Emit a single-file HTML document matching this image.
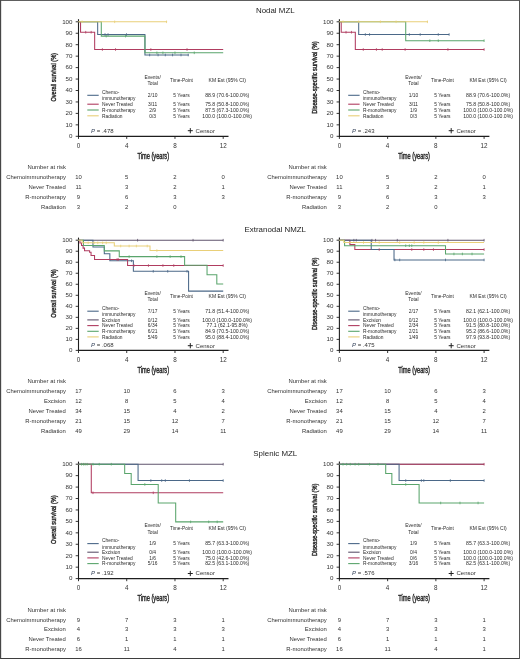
<!DOCTYPE html>
<html><head><meta charset="utf-8"><style>
html,body{margin:0;padding:0;background:#fff;}
body{width:520px;height:659px;overflow:hidden;}
svg{display:block;will-change:transform;}
text{font-family:"Liberation Sans", sans-serif;}
</style></head><body>
<svg width="520" height="659" viewBox="0 0 520 659">
<rect x="0" y="0" width="520" height="659" fill="#fff"/>
<text x="275.30" y="13.26" font-size="7.9" text-anchor="middle" fill="#222">Nodal MZL</text>
<line x1="78.50" y1="19.20" x2="78.50" y2="136.90" stroke="#1e1e1e" stroke-width="1.1"/>
<line x1="78.00" y1="136.30" x2="228.50" y2="136.30" stroke="#1e1e1e" stroke-width="1.2"/>
<line x1="75.70" y1="136.30" x2="78.50" y2="136.30" stroke="#1e1e1e" stroke-width="0.9"/>
<text x="72.50" y="138.12" font-size="6.2" text-anchor="end" fill="#333">0</text>
<line x1="75.70" y1="124.85" x2="78.50" y2="124.85" stroke="#1e1e1e" stroke-width="0.9"/>
<text x="72.50" y="126.67" font-size="6.2" text-anchor="end" fill="#333">10</text>
<line x1="75.70" y1="113.40" x2="78.50" y2="113.40" stroke="#1e1e1e" stroke-width="0.9"/>
<text x="72.50" y="115.22" font-size="6.2" text-anchor="end" fill="#333">20</text>
<line x1="75.70" y1="101.95" x2="78.50" y2="101.95" stroke="#1e1e1e" stroke-width="0.9"/>
<text x="72.50" y="103.77" font-size="6.2" text-anchor="end" fill="#333">30</text>
<line x1="75.70" y1="90.50" x2="78.50" y2="90.50" stroke="#1e1e1e" stroke-width="0.9"/>
<text x="72.50" y="92.32" font-size="6.2" text-anchor="end" fill="#333">40</text>
<line x1="75.70" y1="79.05" x2="78.50" y2="79.05" stroke="#1e1e1e" stroke-width="0.9"/>
<text x="72.50" y="80.87" font-size="6.2" text-anchor="end" fill="#333">50</text>
<line x1="75.70" y1="67.60" x2="78.50" y2="67.60" stroke="#1e1e1e" stroke-width="0.9"/>
<text x="72.50" y="69.42" font-size="6.2" text-anchor="end" fill="#333">60</text>
<line x1="75.70" y1="56.15" x2="78.50" y2="56.15" stroke="#1e1e1e" stroke-width="0.9"/>
<text x="72.50" y="57.97" font-size="6.2" text-anchor="end" fill="#333">70</text>
<line x1="75.70" y1="44.70" x2="78.50" y2="44.70" stroke="#1e1e1e" stroke-width="0.9"/>
<text x="72.50" y="46.52" font-size="6.2" text-anchor="end" fill="#333">80</text>
<line x1="75.70" y1="33.25" x2="78.50" y2="33.25" stroke="#1e1e1e" stroke-width="0.9"/>
<text x="72.50" y="35.07" font-size="6.2" text-anchor="end" fill="#333">90</text>
<line x1="75.70" y1="21.80" x2="78.50" y2="21.80" stroke="#1e1e1e" stroke-width="0.9"/>
<text x="72.50" y="23.62" font-size="6.2" text-anchor="end" fill="#333">100</text>
<line x1="78.50" y1="136.30" x2="78.50" y2="138.90" stroke="#1e1e1e" stroke-width="0.9"/>
<text x="78.50" y="147.76" font-size="6.3" text-anchor="middle" fill="#333">0</text>
<line x1="126.73" y1="136.30" x2="126.73" y2="138.90" stroke="#1e1e1e" stroke-width="0.9"/>
<text x="126.73" y="147.76" font-size="6.3" text-anchor="middle" fill="#333">4</text>
<line x1="174.97" y1="136.30" x2="174.97" y2="138.90" stroke="#1e1e1e" stroke-width="0.9"/>
<text x="174.97" y="147.76" font-size="6.3" text-anchor="middle" fill="#333">8</text>
<line x1="223.20" y1="136.30" x2="223.20" y2="138.90" stroke="#1e1e1e" stroke-width="0.9"/>
<text x="223.20" y="147.76" font-size="6.3" text-anchor="middle" fill="#333">12</text>
<text x="153.25" y="158.80" font-size="8.5" text-anchor="middle" fill="#2a2a2a" stroke="#2a2a2a" stroke-width="0.42" textLength="31.7" lengthAdjust="spacingAndGlyphs">Time (years)</text>
<text transform="translate(56.40,77.30) rotate(-90)" x="0" y="0" font-size="8.1" text-anchor="middle" fill="#2a2a2a" stroke="#2a2a2a" stroke-width="0.42" textLength="48.6" lengthAdjust="spacingAndGlyphs">Overall survival (%)</text>
<path d="M78.50,21.80 L97.67,21.80 L97.67,34.51 L144.94,34.51 L144.94,55.00 L188.71,55.00" fill="none" stroke="#4b6888" stroke-width="1.05" stroke-linejoin="miter"/>
<path d="M78.50,21.80 L80.55,21.80 L80.55,32.22 L94.66,32.22 L94.66,49.51 L223.20,49.51" fill="none" stroke="#b03c60" stroke-width="1.05" stroke-linejoin="miter"/>
<path d="M78.50,21.80 L101.29,21.80 L101.29,36.11 L144.94,36.11 L144.94,52.83 L223.20,52.83" fill="none" stroke="#5aa56c" stroke-width="1.05" stroke-linejoin="miter"/>
<path d="M78.50,21.80 L167.13,21.80" fill="none" stroke="#e9cf78" stroke-width="1.05" stroke-linejoin="miter"/>
<line x1="105.03" y1="33.21" x2="105.03" y2="35.81" stroke="#4b6888" stroke-width="0.8"/>
<line x1="108.04" y1="33.21" x2="108.04" y2="35.81" stroke="#4b6888" stroke-width="0.8"/>
<line x1="126.49" y1="33.21" x2="126.49" y2="35.81" stroke="#4b6888" stroke-width="0.8"/>
<line x1="149.64" y1="53.70" x2="149.64" y2="56.30" stroke="#4b6888" stroke-width="0.8"/>
<line x1="158.08" y1="53.70" x2="158.08" y2="56.30" stroke="#4b6888" stroke-width="0.8"/>
<line x1="165.32" y1="53.70" x2="165.32" y2="56.30" stroke="#4b6888" stroke-width="0.8"/>
<line x1="172.56" y1="53.70" x2="172.56" y2="56.30" stroke="#4b6888" stroke-width="0.8"/>
<line x1="181.00" y1="53.70" x2="181.00" y2="56.30" stroke="#4b6888" stroke-width="0.8"/>
<line x1="188.23" y1="53.70" x2="188.23" y2="56.30" stroke="#4b6888" stroke-width="0.8"/>
<line x1="85.73" y1="30.92" x2="85.73" y2="33.52" stroke="#b03c60" stroke-width="0.8"/>
<line x1="91.16" y1="30.92" x2="91.16" y2="33.52" stroke="#b03c60" stroke-width="0.8"/>
<line x1="102.38" y1="48.21" x2="102.38" y2="50.81" stroke="#b03c60" stroke-width="0.8"/>
<line x1="115.52" y1="48.21" x2="115.52" y2="50.81" stroke="#b03c60" stroke-width="0.8"/>
<line x1="150.85" y1="48.21" x2="150.85" y2="50.81" stroke="#b03c60" stroke-width="0.8"/>
<line x1="187.02" y1="48.21" x2="187.02" y2="50.81" stroke="#b03c60" stroke-width="0.8"/>
<line x1="106.23" y1="34.81" x2="106.23" y2="37.41" stroke="#5aa56c" stroke-width="0.8"/>
<line x1="125.53" y1="34.81" x2="125.53" y2="37.41" stroke="#5aa56c" stroke-width="0.8"/>
<line x1="156.88" y1="51.53" x2="156.88" y2="54.13" stroke="#5aa56c" stroke-width="0.8"/>
<line x1="162.91" y1="51.53" x2="162.91" y2="54.13" stroke="#5aa56c" stroke-width="0.8"/>
<line x1="174.97" y1="51.53" x2="174.97" y2="54.13" stroke="#5aa56c" stroke-width="0.8"/>
<line x1="194.26" y1="51.53" x2="194.26" y2="54.13" stroke="#5aa56c" stroke-width="0.8"/>
<line x1="82.12" y1="20.50" x2="82.12" y2="23.10" stroke="#e9cf78" stroke-width="0.8"/>
<line x1="114.67" y1="20.50" x2="114.67" y2="23.10" stroke="#e9cf78" stroke-width="0.8"/>
<line x1="166.53" y1="20.50" x2="166.53" y2="23.10" stroke="#e9cf78" stroke-width="0.8"/>
<text x="152.60" y="79.15" font-size="4.9" text-anchor="middle" fill="#2b2b2b">Events/</text>
<text x="152.60" y="84.85" font-size="4.9" text-anchor="middle" fill="#2b2b2b">Total</text>
<text x="181.50" y="81.90" font-size="4.75" text-anchor="middle" fill="#2b2b2b">Time-Point</text>
<text x="227.20" y="81.99" font-size="5.0" text-anchor="middle" fill="#2b2b2b">KM Est (95% CI)</text>
<line x1="87.30" y1="95.30" x2="98.70" y2="95.30" stroke="#4b6888" stroke-width="1.1"/>
<text x="102.10" y="93.74" font-size="4.85" fill="#2b2b2b">Chemo-</text>
<text x="102.10" y="100.24" font-size="4.85" fill="#2b2b2b">immunotherapy</text>
<text x="152.60" y="97.05" font-size="4.9" text-anchor="middle" fill="#2b2b2b">2/10</text>
<text x="181.50" y="97.05" font-size="4.9" text-anchor="middle" fill="#2b2b2b">5 Years</text>
<text x="227.20" y="97.14" font-size="5.15" text-anchor="middle" fill="#2b2b2b">88.9 (70.6-100.0%)</text>
<line x1="87.30" y1="104.20" x2="98.70" y2="104.20" stroke="#b03c60" stroke-width="1.1"/>
<text x="102.10" y="105.94" font-size="4.85" fill="#2b2b2b">Never Treated</text>
<text x="152.60" y="105.95" font-size="4.9" text-anchor="middle" fill="#2b2b2b">3/11</text>
<text x="181.50" y="105.95" font-size="4.9" text-anchor="middle" fill="#2b2b2b">5 Years</text>
<text x="227.20" y="106.04" font-size="5.15" text-anchor="middle" fill="#2b2b2b">75.8 (50.8-100.0%)</text>
<line x1="87.30" y1="110.00" x2="98.70" y2="110.00" stroke="#5aa56c" stroke-width="1.1"/>
<text x="102.10" y="111.74" font-size="4.85" fill="#2b2b2b">R-monotherapy</text>
<text x="152.60" y="111.75" font-size="4.9" text-anchor="middle" fill="#2b2b2b">2/9</text>
<text x="181.50" y="111.75" font-size="4.9" text-anchor="middle" fill="#2b2b2b">5 Years</text>
<text x="227.20" y="111.84" font-size="5.15" text-anchor="middle" fill="#2b2b2b">87.5 (67.3-100.0%)</text>
<line x1="87.30" y1="115.80" x2="98.70" y2="115.80" stroke="#e9cf78" stroke-width="1.1"/>
<text x="102.10" y="117.54" font-size="4.85" fill="#2b2b2b">Radiation</text>
<text x="152.60" y="117.55" font-size="4.9" text-anchor="middle" fill="#2b2b2b">0/3</text>
<text x="181.50" y="117.55" font-size="4.9" text-anchor="middle" fill="#2b2b2b">5 Years</text>
<text x="227.20" y="117.64" font-size="5.15" text-anchor="middle" fill="#2b2b2b">100.0 (100.0-100.0%)</text>
<text x="91.10" y="132.95" font-size="6" fill="#333"><tspan font-style="italic" fill="#34425a">P</tspan> = .478</text>
<line x1="187.80" y1="130.70" x2="192.80" y2="130.70" stroke="#222" stroke-width="1.0"/>
<line x1="190.30" y1="128.10" x2="190.30" y2="133.30" stroke="#222" stroke-width="1.0"/>
<text x="195.60" y="132.55" font-size="6.0" fill="#333">Censor</text>
<text x="65.90" y="169.21" font-size="5.9" text-anchor="end" fill="#333">Number at risk</text>
<text x="65.90" y="179.31" font-size="5.9" text-anchor="end" fill="#333">Chemoimmunotherapy</text>
<text x="78.50" y="179.31" font-size="5.9" text-anchor="middle" fill="#333">10</text>
<text x="126.73" y="179.31" font-size="5.9" text-anchor="middle" fill="#333">5</text>
<text x="174.97" y="179.31" font-size="5.9" text-anchor="middle" fill="#333">2</text>
<text x="223.20" y="179.31" font-size="5.9" text-anchor="middle" fill="#333">0</text>
<text x="65.90" y="189.09" font-size="5.9" text-anchor="end" fill="#333">Never Treated</text>
<text x="78.50" y="189.09" font-size="5.9" text-anchor="middle" fill="#333">11</text>
<text x="126.73" y="189.09" font-size="5.9" text-anchor="middle" fill="#333">3</text>
<text x="174.97" y="189.09" font-size="5.9" text-anchor="middle" fill="#333">2</text>
<text x="223.20" y="189.09" font-size="5.9" text-anchor="middle" fill="#333">1</text>
<text x="65.90" y="198.87" font-size="5.9" text-anchor="end" fill="#333">R-monotherapy</text>
<text x="78.50" y="198.87" font-size="5.9" text-anchor="middle" fill="#333">9</text>
<text x="126.73" y="198.87" font-size="5.9" text-anchor="middle" fill="#333">6</text>
<text x="174.97" y="198.87" font-size="5.9" text-anchor="middle" fill="#333">3</text>
<text x="223.20" y="198.87" font-size="5.9" text-anchor="middle" fill="#333">3</text>
<text x="65.90" y="208.65" font-size="5.9" text-anchor="end" fill="#333">Radiation</text>
<text x="78.50" y="208.65" font-size="5.9" text-anchor="middle" fill="#333">3</text>
<text x="126.73" y="208.65" font-size="5.9" text-anchor="middle" fill="#333">2</text>
<text x="174.97" y="208.65" font-size="5.9" text-anchor="middle" fill="#333">0</text>
<line x1="339.40" y1="19.20" x2="339.40" y2="136.90" stroke="#1e1e1e" stroke-width="1.1"/>
<line x1="338.90" y1="136.30" x2="489.40" y2="136.30" stroke="#1e1e1e" stroke-width="1.2"/>
<line x1="336.60" y1="136.30" x2="339.40" y2="136.30" stroke="#1e1e1e" stroke-width="0.9"/>
<text x="333.40" y="138.12" font-size="6.2" text-anchor="end" fill="#333">0</text>
<line x1="336.60" y1="124.85" x2="339.40" y2="124.85" stroke="#1e1e1e" stroke-width="0.9"/>
<text x="333.40" y="126.67" font-size="6.2" text-anchor="end" fill="#333">10</text>
<line x1="336.60" y1="113.40" x2="339.40" y2="113.40" stroke="#1e1e1e" stroke-width="0.9"/>
<text x="333.40" y="115.22" font-size="6.2" text-anchor="end" fill="#333">20</text>
<line x1="336.60" y1="101.95" x2="339.40" y2="101.95" stroke="#1e1e1e" stroke-width="0.9"/>
<text x="333.40" y="103.77" font-size="6.2" text-anchor="end" fill="#333">30</text>
<line x1="336.60" y1="90.50" x2="339.40" y2="90.50" stroke="#1e1e1e" stroke-width="0.9"/>
<text x="333.40" y="92.32" font-size="6.2" text-anchor="end" fill="#333">40</text>
<line x1="336.60" y1="79.05" x2="339.40" y2="79.05" stroke="#1e1e1e" stroke-width="0.9"/>
<text x="333.40" y="80.87" font-size="6.2" text-anchor="end" fill="#333">50</text>
<line x1="336.60" y1="67.60" x2="339.40" y2="67.60" stroke="#1e1e1e" stroke-width="0.9"/>
<text x="333.40" y="69.42" font-size="6.2" text-anchor="end" fill="#333">60</text>
<line x1="336.60" y1="56.15" x2="339.40" y2="56.15" stroke="#1e1e1e" stroke-width="0.9"/>
<text x="333.40" y="57.97" font-size="6.2" text-anchor="end" fill="#333">70</text>
<line x1="336.60" y1="44.70" x2="339.40" y2="44.70" stroke="#1e1e1e" stroke-width="0.9"/>
<text x="333.40" y="46.52" font-size="6.2" text-anchor="end" fill="#333">80</text>
<line x1="336.60" y1="33.25" x2="339.40" y2="33.25" stroke="#1e1e1e" stroke-width="0.9"/>
<text x="333.40" y="35.07" font-size="6.2" text-anchor="end" fill="#333">90</text>
<line x1="336.60" y1="21.80" x2="339.40" y2="21.80" stroke="#1e1e1e" stroke-width="0.9"/>
<text x="333.40" y="23.62" font-size="6.2" text-anchor="end" fill="#333">100</text>
<line x1="339.40" y1="136.30" x2="339.40" y2="138.90" stroke="#1e1e1e" stroke-width="0.9"/>
<text x="339.40" y="147.76" font-size="6.3" text-anchor="middle" fill="#333">0</text>
<line x1="387.63" y1="136.30" x2="387.63" y2="138.90" stroke="#1e1e1e" stroke-width="0.9"/>
<text x="387.63" y="147.76" font-size="6.3" text-anchor="middle" fill="#333">4</text>
<line x1="435.87" y1="136.30" x2="435.87" y2="138.90" stroke="#1e1e1e" stroke-width="0.9"/>
<text x="435.87" y="147.76" font-size="6.3" text-anchor="middle" fill="#333">8</text>
<line x1="484.10" y1="136.30" x2="484.10" y2="138.90" stroke="#1e1e1e" stroke-width="0.9"/>
<text x="484.10" y="147.76" font-size="6.3" text-anchor="middle" fill="#333">12</text>
<text x="414.15" y="158.80" font-size="8.5" text-anchor="middle" fill="#2a2a2a" stroke="#2a2a2a" stroke-width="0.42" textLength="31.7" lengthAdjust="spacingAndGlyphs">Time (years)</text>
<text transform="translate(317.30,77.50) rotate(-90)" x="0" y="0" font-size="8.1" text-anchor="middle" fill="#2a2a2a" stroke="#2a2a2a" stroke-width="0.42" textLength="72.5" lengthAdjust="spacingAndGlyphs">Disease-specific survival (%)</text>
<path d="M339.40,21.80 L358.69,21.80 L358.69,34.51 L449.13,34.51" fill="none" stroke="#4b6888" stroke-width="1.05" stroke-linejoin="miter"/>
<path d="M339.40,21.80 L341.21,21.80 L341.21,32.22 L355.32,32.22 L355.32,49.51 L484.10,49.51" fill="none" stroke="#b03c60" stroke-width="1.05" stroke-linejoin="miter"/>
<path d="M339.40,21.80 L405.72,21.80 L405.72,40.69 L484.10,40.69" fill="none" stroke="#5aa56c" stroke-width="1.05" stroke-linejoin="miter"/>
<path d="M339.40,21.80 L428.03,21.80" fill="none" stroke="#e9cf78" stroke-width="1.05" stroke-linejoin="miter"/>
<line x1="365.33" y1="33.21" x2="365.33" y2="35.81" stroke="#4b6888" stroke-width="0.8"/>
<line x1="369.55" y1="33.21" x2="369.55" y2="35.81" stroke="#4b6888" stroke-width="0.8"/>
<line x1="409.34" y1="33.21" x2="409.34" y2="35.81" stroke="#4b6888" stroke-width="0.8"/>
<line x1="420.19" y1="33.21" x2="420.19" y2="35.81" stroke="#4b6888" stroke-width="0.8"/>
<line x1="438.28" y1="33.21" x2="438.28" y2="35.81" stroke="#4b6888" stroke-width="0.8"/>
<line x1="449.13" y1="33.21" x2="449.13" y2="35.81" stroke="#4b6888" stroke-width="0.8"/>
<line x1="346.03" y1="30.92" x2="346.03" y2="33.52" stroke="#b03c60" stroke-width="0.8"/>
<line x1="351.46" y1="30.92" x2="351.46" y2="33.52" stroke="#b03c60" stroke-width="0.8"/>
<line x1="363.28" y1="48.21" x2="363.28" y2="50.81" stroke="#b03c60" stroke-width="0.8"/>
<line x1="376.42" y1="48.21" x2="376.42" y2="50.81" stroke="#b03c60" stroke-width="0.8"/>
<line x1="382.21" y1="48.21" x2="382.21" y2="50.81" stroke="#b03c60" stroke-width="0.8"/>
<line x1="405.12" y1="48.21" x2="405.12" y2="50.81" stroke="#b03c60" stroke-width="0.8"/>
<line x1="447.92" y1="48.21" x2="447.92" y2="50.81" stroke="#b03c60" stroke-width="0.8"/>
<line x1="484.10" y1="48.21" x2="484.10" y2="50.81" stroke="#b03c60" stroke-width="0.8"/>
<line x1="429.84" y1="39.39" x2="429.84" y2="41.99" stroke="#5aa56c" stroke-width="0.8"/>
<line x1="438.28" y1="39.39" x2="438.28" y2="41.99" stroke="#5aa56c" stroke-width="0.8"/>
<line x1="484.10" y1="39.39" x2="484.10" y2="41.99" stroke="#5aa56c" stroke-width="0.8"/>
<line x1="343.02" y1="20.50" x2="343.02" y2="23.10" stroke="#e9cf78" stroke-width="0.8"/>
<line x1="358.69" y1="20.50" x2="358.69" y2="23.10" stroke="#e9cf78" stroke-width="0.8"/>
<line x1="380.40" y1="20.50" x2="380.40" y2="23.10" stroke="#e9cf78" stroke-width="0.8"/>
<line x1="396.07" y1="20.50" x2="396.07" y2="23.10" stroke="#e9cf78" stroke-width="0.8"/>
<line x1="427.43" y1="20.50" x2="427.43" y2="23.10" stroke="#e9cf78" stroke-width="0.8"/>
<text x="413.50" y="79.15" font-size="4.9" text-anchor="middle" fill="#2b2b2b">Events/</text>
<text x="413.50" y="84.85" font-size="4.9" text-anchor="middle" fill="#2b2b2b">Total</text>
<text x="442.40" y="81.90" font-size="4.75" text-anchor="middle" fill="#2b2b2b">Time-Point</text>
<text x="488.10" y="81.99" font-size="5.0" text-anchor="middle" fill="#2b2b2b">KM Est (95% CI)</text>
<line x1="348.20" y1="95.30" x2="359.60" y2="95.30" stroke="#4b6888" stroke-width="1.1"/>
<text x="363.00" y="93.74" font-size="4.85" fill="#2b2b2b">Chemo-</text>
<text x="363.00" y="100.24" font-size="4.85" fill="#2b2b2b">immunotherapy</text>
<text x="413.50" y="97.05" font-size="4.9" text-anchor="middle" fill="#2b2b2b">1/10</text>
<text x="442.40" y="97.05" font-size="4.9" text-anchor="middle" fill="#2b2b2b">5 Years</text>
<text x="488.10" y="97.14" font-size="5.15" text-anchor="middle" fill="#2b2b2b">88.9 (70.6-100.0%)</text>
<line x1="348.20" y1="104.20" x2="359.60" y2="104.20" stroke="#b03c60" stroke-width="1.1"/>
<text x="363.00" y="105.94" font-size="4.85" fill="#2b2b2b">Never Treated</text>
<text x="413.50" y="105.95" font-size="4.9" text-anchor="middle" fill="#2b2b2b">3/11</text>
<text x="442.40" y="105.95" font-size="4.9" text-anchor="middle" fill="#2b2b2b">5 Years</text>
<text x="488.10" y="106.04" font-size="5.15" text-anchor="middle" fill="#2b2b2b">75.8 (50.8-100.0%)</text>
<line x1="348.20" y1="110.00" x2="359.60" y2="110.00" stroke="#5aa56c" stroke-width="1.1"/>
<text x="363.00" y="111.74" font-size="4.85" fill="#2b2b2b">R-monotherapy</text>
<text x="413.50" y="111.75" font-size="4.9" text-anchor="middle" fill="#2b2b2b">1/9</text>
<text x="442.40" y="111.75" font-size="4.9" text-anchor="middle" fill="#2b2b2b">5 Years</text>
<text x="488.10" y="111.84" font-size="5.15" text-anchor="middle" fill="#2b2b2b">100.0 (100.0-100.0%)</text>
<line x1="348.20" y1="115.80" x2="359.60" y2="115.80" stroke="#e9cf78" stroke-width="1.1"/>
<text x="363.00" y="117.54" font-size="4.85" fill="#2b2b2b">Radiation</text>
<text x="413.50" y="117.55" font-size="4.9" text-anchor="middle" fill="#2b2b2b">0/3</text>
<text x="442.40" y="117.55" font-size="4.9" text-anchor="middle" fill="#2b2b2b">5 Years</text>
<text x="488.10" y="117.64" font-size="5.15" text-anchor="middle" fill="#2b2b2b">100.0 (100.0-100.0%)</text>
<text x="352.00" y="132.95" font-size="6" fill="#333"><tspan font-style="italic" fill="#34425a">P</tspan> = .243</text>
<line x1="448.70" y1="130.70" x2="453.70" y2="130.70" stroke="#222" stroke-width="1.0"/>
<line x1="451.20" y1="128.10" x2="451.20" y2="133.30" stroke="#222" stroke-width="1.0"/>
<text x="456.50" y="132.55" font-size="6.0" fill="#333">Censor</text>
<text x="326.80" y="169.21" font-size="5.9" text-anchor="end" fill="#333">Number at risk</text>
<text x="326.80" y="179.31" font-size="5.9" text-anchor="end" fill="#333">Chemoimmunotherapy</text>
<text x="339.40" y="179.31" font-size="5.9" text-anchor="middle" fill="#333">10</text>
<text x="387.63" y="179.31" font-size="5.9" text-anchor="middle" fill="#333">5</text>
<text x="435.87" y="179.31" font-size="5.9" text-anchor="middle" fill="#333">2</text>
<text x="484.10" y="179.31" font-size="5.9" text-anchor="middle" fill="#333">0</text>
<text x="326.80" y="189.09" font-size="5.9" text-anchor="end" fill="#333">Never Treated</text>
<text x="339.40" y="189.09" font-size="5.9" text-anchor="middle" fill="#333">11</text>
<text x="387.63" y="189.09" font-size="5.9" text-anchor="middle" fill="#333">3</text>
<text x="435.87" y="189.09" font-size="5.9" text-anchor="middle" fill="#333">2</text>
<text x="484.10" y="189.09" font-size="5.9" text-anchor="middle" fill="#333">1</text>
<text x="326.80" y="198.87" font-size="5.9" text-anchor="end" fill="#333">R-monotherapy</text>
<text x="339.40" y="198.87" font-size="5.9" text-anchor="middle" fill="#333">9</text>
<text x="387.63" y="198.87" font-size="5.9" text-anchor="middle" fill="#333">6</text>
<text x="435.87" y="198.87" font-size="5.9" text-anchor="middle" fill="#333">3</text>
<text x="484.10" y="198.87" font-size="5.9" text-anchor="middle" fill="#333">3</text>
<text x="326.80" y="208.65" font-size="5.9" text-anchor="end" fill="#333">Radiation</text>
<text x="339.40" y="208.65" font-size="5.9" text-anchor="middle" fill="#333">3</text>
<text x="387.63" y="208.65" font-size="5.9" text-anchor="middle" fill="#333">2</text>
<text x="435.87" y="208.65" font-size="5.9" text-anchor="middle" fill="#333">0</text>
<text x="275.30" y="231.96" font-size="7.9" text-anchor="middle" fill="#222">Extranodal NMZL</text>
<line x1="78.50" y1="237.60" x2="78.50" y2="351.00" stroke="#1e1e1e" stroke-width="1.1"/>
<line x1="78.00" y1="350.40" x2="228.50" y2="350.40" stroke="#1e1e1e" stroke-width="1.2"/>
<line x1="75.70" y1="350.40" x2="78.50" y2="350.40" stroke="#1e1e1e" stroke-width="0.9"/>
<text x="72.50" y="352.22" font-size="6.2" text-anchor="end" fill="#333">0</text>
<line x1="75.70" y1="339.38" x2="78.50" y2="339.38" stroke="#1e1e1e" stroke-width="0.9"/>
<text x="72.50" y="341.20" font-size="6.2" text-anchor="end" fill="#333">10</text>
<line x1="75.70" y1="328.36" x2="78.50" y2="328.36" stroke="#1e1e1e" stroke-width="0.9"/>
<text x="72.50" y="330.18" font-size="6.2" text-anchor="end" fill="#333">20</text>
<line x1="75.70" y1="317.34" x2="78.50" y2="317.34" stroke="#1e1e1e" stroke-width="0.9"/>
<text x="72.50" y="319.16" font-size="6.2" text-anchor="end" fill="#333">30</text>
<line x1="75.70" y1="306.32" x2="78.50" y2="306.32" stroke="#1e1e1e" stroke-width="0.9"/>
<text x="72.50" y="308.14" font-size="6.2" text-anchor="end" fill="#333">40</text>
<line x1="75.70" y1="295.30" x2="78.50" y2="295.30" stroke="#1e1e1e" stroke-width="0.9"/>
<text x="72.50" y="297.12" font-size="6.2" text-anchor="end" fill="#333">50</text>
<line x1="75.70" y1="284.28" x2="78.50" y2="284.28" stroke="#1e1e1e" stroke-width="0.9"/>
<text x="72.50" y="286.10" font-size="6.2" text-anchor="end" fill="#333">60</text>
<line x1="75.70" y1="273.26" x2="78.50" y2="273.26" stroke="#1e1e1e" stroke-width="0.9"/>
<text x="72.50" y="275.08" font-size="6.2" text-anchor="end" fill="#333">70</text>
<line x1="75.70" y1="262.24" x2="78.50" y2="262.24" stroke="#1e1e1e" stroke-width="0.9"/>
<text x="72.50" y="264.06" font-size="6.2" text-anchor="end" fill="#333">80</text>
<line x1="75.70" y1="251.22" x2="78.50" y2="251.22" stroke="#1e1e1e" stroke-width="0.9"/>
<text x="72.50" y="253.04" font-size="6.2" text-anchor="end" fill="#333">90</text>
<line x1="75.70" y1="240.20" x2="78.50" y2="240.20" stroke="#1e1e1e" stroke-width="0.9"/>
<text x="72.50" y="242.02" font-size="6.2" text-anchor="end" fill="#333">100</text>
<line x1="78.50" y1="350.40" x2="78.50" y2="353.00" stroke="#1e1e1e" stroke-width="0.9"/>
<text x="78.50" y="361.86" font-size="6.3" text-anchor="middle" fill="#333">0</text>
<line x1="126.73" y1="350.40" x2="126.73" y2="353.00" stroke="#1e1e1e" stroke-width="0.9"/>
<text x="126.73" y="361.86" font-size="6.3" text-anchor="middle" fill="#333">4</text>
<line x1="174.97" y1="350.40" x2="174.97" y2="353.00" stroke="#1e1e1e" stroke-width="0.9"/>
<text x="174.97" y="361.86" font-size="6.3" text-anchor="middle" fill="#333">8</text>
<line x1="223.20" y1="350.40" x2="223.20" y2="353.00" stroke="#1e1e1e" stroke-width="0.9"/>
<text x="223.20" y="361.86" font-size="6.3" text-anchor="middle" fill="#333">12</text>
<text x="153.25" y="372.90" font-size="8.5" text-anchor="middle" fill="#2a2a2a" stroke="#2a2a2a" stroke-width="0.42" textLength="31.7" lengthAdjust="spacingAndGlyphs">Time (years)</text>
<text transform="translate(56.40,293.55) rotate(-90)" x="0" y="0" font-size="8.1" text-anchor="middle" fill="#2a2a2a" stroke="#2a2a2a" stroke-width="0.42" textLength="48.6" lengthAdjust="spacingAndGlyphs">Overall survival (%)</text>
<path d="M78.50,240.20 L223.20,240.20" fill="none" stroke="#5f536c" stroke-width="1.05" stroke-linejoin="miter"/>
<path d="M78.50,240.20 L92.97,240.20 L92.97,246.92 L104.30,246.92 L104.30,253.75 L109.85,253.75 L109.85,260.81 L133.37,260.81 L133.37,271.28 L188.59,271.28 L188.59,291.11 L223.20,291.11" fill="none" stroke="#4b6888" stroke-width="1.05" stroke-linejoin="miter"/>
<path d="M78.50,240.20 L79.95,240.20 L79.95,242.95 L81.51,242.95 L81.51,245.49 L83.08,245.49 L83.08,248.13 L84.53,248.13 L84.53,250.78 L89.59,250.78 L89.59,252.32 L91.04,252.32 L91.04,255.41 L94.54,255.41 L94.54,259.49 L127.58,259.49 L127.58,265.55 L223.20,265.55" fill="none" stroke="#b03c60" stroke-width="1.05" stroke-linejoin="miter"/>
<path d="M78.50,240.20 L83.44,240.20 L83.44,245.49 L104.30,245.49 L104.30,250.89 L119.26,250.89 L119.26,256.62 L184.61,256.62 L184.61,265.22 L207.04,265.22 L207.04,274.69 L216.81,274.69 L216.81,283.95 L223.20,283.95" fill="none" stroke="#5aa56c" stroke-width="1.05" stroke-linejoin="miter"/>
<path d="M78.50,240.20 L82.12,240.20 L82.12,242.84 L114.31,242.84 L114.31,246.04 L150.01,246.04 L150.01,250.56 L223.20,250.56" fill="none" stroke="#e9cf78" stroke-width="1.05" stroke-linejoin="miter"/>
<line x1="137.59" y1="238.90" x2="137.59" y2="241.50" stroke="#5f536c" stroke-width="0.8"/>
<line x1="193.05" y1="238.90" x2="193.05" y2="241.50" stroke="#5f536c" stroke-width="0.8"/>
<line x1="223.20" y1="238.90" x2="223.20" y2="241.50" stroke="#5f536c" stroke-width="0.8"/>
<line x1="131.56" y1="259.51" x2="131.56" y2="262.11" stroke="#4b6888" stroke-width="0.8"/>
<line x1="153.26" y1="269.98" x2="153.26" y2="272.58" stroke="#4b6888" stroke-width="0.8"/>
<line x1="167.73" y1="269.98" x2="167.73" y2="272.58" stroke="#4b6888" stroke-width="0.8"/>
<line x1="187.02" y1="269.98" x2="187.02" y2="272.58" stroke="#4b6888" stroke-width="0.8"/>
<line x1="117.09" y1="258.19" x2="117.09" y2="260.79" stroke="#b03c60" stroke-width="0.8"/>
<line x1="118.29" y1="258.19" x2="118.29" y2="260.79" stroke="#b03c60" stroke-width="0.8"/>
<line x1="133.97" y1="264.25" x2="133.97" y2="266.85" stroke="#b03c60" stroke-width="0.8"/>
<line x1="148.44" y1="264.25" x2="148.44" y2="266.85" stroke="#b03c60" stroke-width="0.8"/>
<line x1="162.91" y1="264.25" x2="162.91" y2="266.85" stroke="#b03c60" stroke-width="0.8"/>
<line x1="173.76" y1="264.25" x2="173.76" y2="266.85" stroke="#b03c60" stroke-width="0.8"/>
<line x1="223.20" y1="264.25" x2="223.20" y2="266.85" stroke="#b03c60" stroke-width="0.8"/>
<line x1="129.14" y1="255.32" x2="129.14" y2="257.92" stroke="#5aa56c" stroke-width="0.8"/>
<line x1="156.88" y1="255.32" x2="156.88" y2="257.92" stroke="#5aa56c" stroke-width="0.8"/>
<line x1="170.14" y1="255.32" x2="170.14" y2="257.92" stroke="#5aa56c" stroke-width="0.8"/>
<line x1="181.00" y1="255.32" x2="181.00" y2="257.92" stroke="#5aa56c" stroke-width="0.8"/>
<line x1="88.15" y1="241.54" x2="88.15" y2="244.14" stroke="#e9cf78" stroke-width="0.8"/>
<line x1="94.18" y1="241.54" x2="94.18" y2="244.14" stroke="#e9cf78" stroke-width="0.8"/>
<line x1="97.79" y1="241.54" x2="97.79" y2="244.14" stroke="#e9cf78" stroke-width="0.8"/>
<line x1="102.62" y1="241.54" x2="102.62" y2="244.14" stroke="#e9cf78" stroke-width="0.8"/>
<line x1="106.23" y1="241.54" x2="106.23" y2="244.14" stroke="#e9cf78" stroke-width="0.8"/>
<line x1="120.70" y1="244.74" x2="120.70" y2="247.34" stroke="#e9cf78" stroke-width="0.8"/>
<line x1="129.14" y1="244.74" x2="129.14" y2="247.34" stroke="#e9cf78" stroke-width="0.8"/>
<line x1="136.38" y1="244.74" x2="136.38" y2="247.34" stroke="#e9cf78" stroke-width="0.8"/>
<line x1="147.23" y1="244.74" x2="147.23" y2="247.34" stroke="#e9cf78" stroke-width="0.8"/>
<line x1="156.88" y1="249.26" x2="156.88" y2="251.86" stroke="#e9cf78" stroke-width="0.8"/>
<text x="152.60" y="294.85" font-size="4.9" text-anchor="middle" fill="#2b2b2b">Events/</text>
<text x="152.60" y="300.75" font-size="4.9" text-anchor="middle" fill="#2b2b2b">Total</text>
<text x="181.50" y="297.70" font-size="4.75" text-anchor="middle" fill="#2b2b2b">Time-Point</text>
<text x="227.20" y="297.79" font-size="5.0" text-anchor="middle" fill="#2b2b2b">KM Est (95% CI)</text>
<line x1="87.30" y1="311.20" x2="98.70" y2="311.20" stroke="#4b6888" stroke-width="1.1"/>
<text x="102.10" y="309.54" font-size="4.85" fill="#2b2b2b">Chemo-</text>
<text x="102.10" y="315.94" font-size="4.85" fill="#2b2b2b">immunotherapy</text>
<text x="152.60" y="312.95" font-size="4.9" text-anchor="middle" fill="#2b2b2b">7/17</text>
<text x="181.50" y="312.95" font-size="4.9" text-anchor="middle" fill="#2b2b2b">5 Years</text>
<text x="227.20" y="313.04" font-size="5.15" text-anchor="middle" fill="#2b2b2b">71.8 (51.4-100.0%)</text>
<line x1="87.30" y1="319.90" x2="98.70" y2="319.90" stroke="#5f536c" stroke-width="1.1"/>
<text x="102.10" y="321.64" font-size="4.85" fill="#2b2b2b">Excision</text>
<text x="152.60" y="321.65" font-size="4.9" text-anchor="middle" fill="#2b2b2b">0/12</text>
<text x="181.50" y="321.65" font-size="4.9" text-anchor="middle" fill="#2b2b2b">5 Years</text>
<text x="227.20" y="321.74" font-size="5.15" text-anchor="middle" fill="#2b2b2b">100.0 (100.0-100.0%)</text>
<line x1="87.30" y1="325.60" x2="98.70" y2="325.60" stroke="#b03c60" stroke-width="1.1"/>
<text x="102.10" y="327.34" font-size="4.85" fill="#2b2b2b">Never Treated</text>
<text x="152.60" y="327.35" font-size="4.9" text-anchor="middle" fill="#2b2b2b">6/34</text>
<text x="181.50" y="327.35" font-size="4.9" text-anchor="middle" fill="#2b2b2b">5 Years</text>
<text x="227.20" y="327.44" font-size="5.15" text-anchor="middle" fill="#2b2b2b">77.1 (62.1-95.8%)</text>
<line x1="87.30" y1="331.30" x2="98.70" y2="331.30" stroke="#5aa56c" stroke-width="1.1"/>
<text x="102.10" y="333.04" font-size="4.85" fill="#2b2b2b">R-monotherapy</text>
<text x="152.60" y="333.05" font-size="4.9" text-anchor="middle" fill="#2b2b2b">6/21</text>
<text x="181.50" y="333.05" font-size="4.9" text-anchor="middle" fill="#2b2b2b">5 Years</text>
<text x="227.20" y="333.14" font-size="5.15" text-anchor="middle" fill="#2b2b2b">84.9 (70.5-100.0%)</text>
<line x1="87.30" y1="336.90" x2="98.70" y2="336.90" stroke="#e9cf78" stroke-width="1.1"/>
<text x="102.10" y="338.64" font-size="4.85" fill="#2b2b2b">Radiation</text>
<text x="152.60" y="338.65" font-size="4.9" text-anchor="middle" fill="#2b2b2b">5/49</text>
<text x="181.50" y="338.65" font-size="4.9" text-anchor="middle" fill="#2b2b2b">5 Years</text>
<text x="227.20" y="338.74" font-size="5.15" text-anchor="middle" fill="#2b2b2b">95.0 (88.4-100.0%)</text>
<text x="91.10" y="347.05" font-size="6" fill="#333"><tspan font-style="italic" fill="#34425a">P</tspan> = .068</text>
<line x1="187.80" y1="345.70" x2="192.80" y2="345.70" stroke="#222" stroke-width="1.0"/>
<line x1="190.30" y1="343.10" x2="190.30" y2="348.30" stroke="#222" stroke-width="1.0"/>
<text x="195.60" y="347.55" font-size="6.0" fill="#333">Censor</text>
<text x="65.90" y="383.31" font-size="5.9" text-anchor="end" fill="#333">Number at risk</text>
<text x="65.90" y="393.41" font-size="5.9" text-anchor="end" fill="#333">Chemoimmunotherapy</text>
<text x="78.50" y="393.41" font-size="5.9" text-anchor="middle" fill="#333">17</text>
<text x="126.73" y="393.41" font-size="5.9" text-anchor="middle" fill="#333">10</text>
<text x="174.97" y="393.41" font-size="5.9" text-anchor="middle" fill="#333">6</text>
<text x="223.20" y="393.41" font-size="5.9" text-anchor="middle" fill="#333">3</text>
<text x="65.90" y="403.19" font-size="5.9" text-anchor="end" fill="#333">Excision</text>
<text x="78.50" y="403.19" font-size="5.9" text-anchor="middle" fill="#333">12</text>
<text x="126.73" y="403.19" font-size="5.9" text-anchor="middle" fill="#333">8</text>
<text x="174.97" y="403.19" font-size="5.9" text-anchor="middle" fill="#333">5</text>
<text x="223.20" y="403.19" font-size="5.9" text-anchor="middle" fill="#333">4</text>
<text x="65.90" y="412.97" font-size="5.9" text-anchor="end" fill="#333">Never Treated</text>
<text x="78.50" y="412.97" font-size="5.9" text-anchor="middle" fill="#333">34</text>
<text x="126.73" y="412.97" font-size="5.9" text-anchor="middle" fill="#333">15</text>
<text x="174.97" y="412.97" font-size="5.9" text-anchor="middle" fill="#333">4</text>
<text x="223.20" y="412.97" font-size="5.9" text-anchor="middle" fill="#333">2</text>
<text x="65.90" y="422.75" font-size="5.9" text-anchor="end" fill="#333">R-monotherapy</text>
<text x="78.50" y="422.75" font-size="5.9" text-anchor="middle" fill="#333">21</text>
<text x="126.73" y="422.75" font-size="5.9" text-anchor="middle" fill="#333">15</text>
<text x="174.97" y="422.75" font-size="5.9" text-anchor="middle" fill="#333">12</text>
<text x="223.20" y="422.75" font-size="5.9" text-anchor="middle" fill="#333">7</text>
<text x="65.90" y="432.53" font-size="5.9" text-anchor="end" fill="#333">Radiation</text>
<text x="78.50" y="432.53" font-size="5.9" text-anchor="middle" fill="#333">49</text>
<text x="126.73" y="432.53" font-size="5.9" text-anchor="middle" fill="#333">29</text>
<text x="174.97" y="432.53" font-size="5.9" text-anchor="middle" fill="#333">14</text>
<text x="223.20" y="432.53" font-size="5.9" text-anchor="middle" fill="#333">11</text>
<line x1="339.40" y1="237.60" x2="339.40" y2="351.00" stroke="#1e1e1e" stroke-width="1.1"/>
<line x1="338.90" y1="350.40" x2="489.40" y2="350.40" stroke="#1e1e1e" stroke-width="1.2"/>
<line x1="336.60" y1="350.40" x2="339.40" y2="350.40" stroke="#1e1e1e" stroke-width="0.9"/>
<text x="333.40" y="352.22" font-size="6.2" text-anchor="end" fill="#333">0</text>
<line x1="336.60" y1="339.38" x2="339.40" y2="339.38" stroke="#1e1e1e" stroke-width="0.9"/>
<text x="333.40" y="341.20" font-size="6.2" text-anchor="end" fill="#333">10</text>
<line x1="336.60" y1="328.36" x2="339.40" y2="328.36" stroke="#1e1e1e" stroke-width="0.9"/>
<text x="333.40" y="330.18" font-size="6.2" text-anchor="end" fill="#333">20</text>
<line x1="336.60" y1="317.34" x2="339.40" y2="317.34" stroke="#1e1e1e" stroke-width="0.9"/>
<text x="333.40" y="319.16" font-size="6.2" text-anchor="end" fill="#333">30</text>
<line x1="336.60" y1="306.32" x2="339.40" y2="306.32" stroke="#1e1e1e" stroke-width="0.9"/>
<text x="333.40" y="308.14" font-size="6.2" text-anchor="end" fill="#333">40</text>
<line x1="336.60" y1="295.30" x2="339.40" y2="295.30" stroke="#1e1e1e" stroke-width="0.9"/>
<text x="333.40" y="297.12" font-size="6.2" text-anchor="end" fill="#333">50</text>
<line x1="336.60" y1="284.28" x2="339.40" y2="284.28" stroke="#1e1e1e" stroke-width="0.9"/>
<text x="333.40" y="286.10" font-size="6.2" text-anchor="end" fill="#333">60</text>
<line x1="336.60" y1="273.26" x2="339.40" y2="273.26" stroke="#1e1e1e" stroke-width="0.9"/>
<text x="333.40" y="275.08" font-size="6.2" text-anchor="end" fill="#333">70</text>
<line x1="336.60" y1="262.24" x2="339.40" y2="262.24" stroke="#1e1e1e" stroke-width="0.9"/>
<text x="333.40" y="264.06" font-size="6.2" text-anchor="end" fill="#333">80</text>
<line x1="336.60" y1="251.22" x2="339.40" y2="251.22" stroke="#1e1e1e" stroke-width="0.9"/>
<text x="333.40" y="253.04" font-size="6.2" text-anchor="end" fill="#333">90</text>
<line x1="336.60" y1="240.20" x2="339.40" y2="240.20" stroke="#1e1e1e" stroke-width="0.9"/>
<text x="333.40" y="242.02" font-size="6.2" text-anchor="end" fill="#333">100</text>
<line x1="339.40" y1="350.40" x2="339.40" y2="353.00" stroke="#1e1e1e" stroke-width="0.9"/>
<text x="339.40" y="361.86" font-size="6.3" text-anchor="middle" fill="#333">0</text>
<line x1="387.63" y1="350.40" x2="387.63" y2="353.00" stroke="#1e1e1e" stroke-width="0.9"/>
<text x="387.63" y="361.86" font-size="6.3" text-anchor="middle" fill="#333">4</text>
<line x1="435.87" y1="350.40" x2="435.87" y2="353.00" stroke="#1e1e1e" stroke-width="0.9"/>
<text x="435.87" y="361.86" font-size="6.3" text-anchor="middle" fill="#333">8</text>
<line x1="484.10" y1="350.40" x2="484.10" y2="353.00" stroke="#1e1e1e" stroke-width="0.9"/>
<text x="484.10" y="361.86" font-size="6.3" text-anchor="middle" fill="#333">12</text>
<text x="414.15" y="372.90" font-size="8.5" text-anchor="middle" fill="#2a2a2a" stroke="#2a2a2a" stroke-width="0.42" textLength="31.7" lengthAdjust="spacingAndGlyphs">Time (years)</text>
<text transform="translate(317.30,293.75) rotate(-90)" x="0" y="0" font-size="8.1" text-anchor="middle" fill="#2a2a2a" stroke="#2a2a2a" stroke-width="0.42" textLength="72.5" lengthAdjust="spacingAndGlyphs">Disease-specific survival (%)</text>
<path d="M339.40,240.20 L484.10,240.20" fill="none" stroke="#5f536c" stroke-width="1.05" stroke-linejoin="miter"/>
<path d="M339.40,240.20 L349.89,240.20 L349.89,244.61 L354.83,244.61 L354.83,249.57 L484.10,249.57" fill="none" stroke="#b03c60" stroke-width="1.05" stroke-linejoin="miter"/>
<path d="M339.40,240.20 L371.23,240.20 L371.23,249.57 L394.02,249.57 L394.02,259.93 L484.10,259.93" fill="none" stroke="#4b6888" stroke-width="1.05" stroke-linejoin="miter"/>
<path d="M339.40,240.20 L344.59,240.20 L344.59,245.71 L445.51,245.71 L445.51,253.97 L484.10,253.97" fill="none" stroke="#5aa56c" stroke-width="1.05" stroke-linejoin="miter"/>
<path d="M339.40,240.20 L343.86,240.20 L343.86,242.51 L484.10,242.51" fill="none" stroke="#e9cf78" stroke-width="1.05" stroke-linejoin="miter"/>
<line x1="353.87" y1="238.90" x2="353.87" y2="241.50" stroke="#5f536c" stroke-width="0.8"/>
<line x1="356.28" y1="238.90" x2="356.28" y2="241.50" stroke="#5f536c" stroke-width="0.8"/>
<line x1="371.96" y1="238.90" x2="371.96" y2="241.50" stroke="#5f536c" stroke-width="0.8"/>
<line x1="375.57" y1="238.90" x2="375.57" y2="241.50" stroke="#5f536c" stroke-width="0.8"/>
<line x1="397.28" y1="238.90" x2="397.28" y2="241.50" stroke="#5f536c" stroke-width="0.8"/>
<line x1="447.92" y1="238.90" x2="447.92" y2="241.50" stroke="#5f536c" stroke-width="0.8"/>
<line x1="484.10" y1="238.90" x2="484.10" y2="241.50" stroke="#5f536c" stroke-width="0.8"/>
<line x1="379.19" y1="248.27" x2="379.19" y2="250.87" stroke="#b03c60" stroke-width="0.8"/>
<line x1="411.75" y1="248.27" x2="411.75" y2="250.87" stroke="#b03c60" stroke-width="0.8"/>
<line x1="423.81" y1="248.27" x2="423.81" y2="250.87" stroke="#b03c60" stroke-width="0.8"/>
<line x1="433.45" y1="248.27" x2="433.45" y2="250.87" stroke="#b03c60" stroke-width="0.8"/>
<line x1="484.10" y1="248.27" x2="484.10" y2="250.87" stroke="#b03c60" stroke-width="0.8"/>
<line x1="394.87" y1="258.63" x2="394.87" y2="261.23" stroke="#4b6888" stroke-width="0.8"/>
<line x1="399.69" y1="258.63" x2="399.69" y2="261.23" stroke="#4b6888" stroke-width="0.8"/>
<line x1="445.51" y1="258.63" x2="445.51" y2="261.23" stroke="#4b6888" stroke-width="0.8"/>
<line x1="484.10" y1="258.63" x2="484.10" y2="261.23" stroke="#4b6888" stroke-width="0.8"/>
<line x1="405.72" y1="244.41" x2="405.72" y2="247.01" stroke="#5aa56c" stroke-width="0.8"/>
<line x1="409.34" y1="244.41" x2="409.34" y2="247.01" stroke="#5aa56c" stroke-width="0.8"/>
<line x1="411.75" y1="244.41" x2="411.75" y2="247.01" stroke="#5aa56c" stroke-width="0.8"/>
<line x1="453.95" y1="252.67" x2="453.95" y2="255.28" stroke="#5aa56c" stroke-width="0.8"/>
<line x1="462.39" y1="252.67" x2="462.39" y2="255.28" stroke="#5aa56c" stroke-width="0.8"/>
<line x1="472.04" y1="252.67" x2="472.04" y2="255.28" stroke="#5aa56c" stroke-width="0.8"/>
<line x1="363.52" y1="241.21" x2="363.52" y2="243.81" stroke="#e9cf78" stroke-width="0.8"/>
<line x1="379.19" y1="241.21" x2="379.19" y2="243.81" stroke="#e9cf78" stroke-width="0.8"/>
<line x1="399.69" y1="241.21" x2="399.69" y2="243.81" stroke="#e9cf78" stroke-width="0.8"/>
<line x1="414.16" y1="241.21" x2="414.16" y2="243.81" stroke="#e9cf78" stroke-width="0.8"/>
<line x1="423.81" y1="241.21" x2="423.81" y2="243.81" stroke="#e9cf78" stroke-width="0.8"/>
<line x1="438.28" y1="241.21" x2="438.28" y2="243.81" stroke="#e9cf78" stroke-width="0.8"/>
<text x="413.50" y="294.85" font-size="4.9" text-anchor="middle" fill="#2b2b2b">Events/</text>
<text x="413.50" y="300.75" font-size="4.9" text-anchor="middle" fill="#2b2b2b">Total</text>
<text x="442.40" y="297.70" font-size="4.75" text-anchor="middle" fill="#2b2b2b">Time-Point</text>
<text x="488.10" y="297.79" font-size="5.0" text-anchor="middle" fill="#2b2b2b">KM Est (95% CI)</text>
<line x1="348.20" y1="311.20" x2="359.60" y2="311.20" stroke="#4b6888" stroke-width="1.1"/>
<text x="363.00" y="309.54" font-size="4.85" fill="#2b2b2b">Chemo-</text>
<text x="363.00" y="315.94" font-size="4.85" fill="#2b2b2b">immunotherapy</text>
<text x="413.50" y="312.95" font-size="4.9" text-anchor="middle" fill="#2b2b2b">2/17</text>
<text x="442.40" y="312.95" font-size="4.9" text-anchor="middle" fill="#2b2b2b">5 Years</text>
<text x="488.10" y="313.04" font-size="5.15" text-anchor="middle" fill="#2b2b2b">82.1 (62.1-100.0%)</text>
<line x1="348.20" y1="319.90" x2="359.60" y2="319.90" stroke="#5f536c" stroke-width="1.1"/>
<text x="363.00" y="321.64" font-size="4.85" fill="#2b2b2b">Excision</text>
<text x="413.50" y="321.65" font-size="4.9" text-anchor="middle" fill="#2b2b2b">0/12</text>
<text x="442.40" y="321.65" font-size="4.9" text-anchor="middle" fill="#2b2b2b">5 Years</text>
<text x="488.10" y="321.74" font-size="5.15" text-anchor="middle" fill="#2b2b2b">100.0 (100.0-100.0%)</text>
<line x1="348.20" y1="325.60" x2="359.60" y2="325.60" stroke="#b03c60" stroke-width="1.1"/>
<text x="363.00" y="327.34" font-size="4.85" fill="#2b2b2b">Never Treated</text>
<text x="413.50" y="327.35" font-size="4.9" text-anchor="middle" fill="#2b2b2b">2/34</text>
<text x="442.40" y="327.35" font-size="4.9" text-anchor="middle" fill="#2b2b2b">5 Years</text>
<text x="488.10" y="327.44" font-size="5.15" text-anchor="middle" fill="#2b2b2b">91.5 (80.8-100.0%)</text>
<line x1="348.20" y1="331.30" x2="359.60" y2="331.30" stroke="#5aa56c" stroke-width="1.1"/>
<text x="363.00" y="333.04" font-size="4.85" fill="#2b2b2b">R-monotherapy</text>
<text x="413.50" y="333.05" font-size="4.9" text-anchor="middle" fill="#2b2b2b">2/21</text>
<text x="442.40" y="333.05" font-size="4.9" text-anchor="middle" fill="#2b2b2b">5 Years</text>
<text x="488.10" y="333.14" font-size="5.15" text-anchor="middle" fill="#2b2b2b">95.2 (86.6-100.0%)</text>
<line x1="348.20" y1="336.90" x2="359.60" y2="336.90" stroke="#e9cf78" stroke-width="1.1"/>
<text x="363.00" y="338.64" font-size="4.85" fill="#2b2b2b">Radiation</text>
<text x="413.50" y="338.65" font-size="4.9" text-anchor="middle" fill="#2b2b2b">1/49</text>
<text x="442.40" y="338.65" font-size="4.9" text-anchor="middle" fill="#2b2b2b">5 Years</text>
<text x="488.10" y="338.74" font-size="5.15" text-anchor="middle" fill="#2b2b2b">97.9 (93.8-100.0%)</text>
<text x="352.00" y="347.05" font-size="6" fill="#333"><tspan font-style="italic" fill="#34425a">P</tspan> = .475</text>
<line x1="448.70" y1="345.70" x2="453.70" y2="345.70" stroke="#222" stroke-width="1.0"/>
<line x1="451.20" y1="343.10" x2="451.20" y2="348.30" stroke="#222" stroke-width="1.0"/>
<text x="456.50" y="347.55" font-size="6.0" fill="#333">Censor</text>
<text x="326.80" y="383.31" font-size="5.9" text-anchor="end" fill="#333">Number at risk</text>
<text x="326.80" y="393.41" font-size="5.9" text-anchor="end" fill="#333">Chemoimmunotherapy</text>
<text x="339.40" y="393.41" font-size="5.9" text-anchor="middle" fill="#333">17</text>
<text x="387.63" y="393.41" font-size="5.9" text-anchor="middle" fill="#333">10</text>
<text x="435.87" y="393.41" font-size="5.9" text-anchor="middle" fill="#333">6</text>
<text x="484.10" y="393.41" font-size="5.9" text-anchor="middle" fill="#333">3</text>
<text x="326.80" y="403.19" font-size="5.9" text-anchor="end" fill="#333">Excision</text>
<text x="339.40" y="403.19" font-size="5.9" text-anchor="middle" fill="#333">12</text>
<text x="387.63" y="403.19" font-size="5.9" text-anchor="middle" fill="#333">8</text>
<text x="435.87" y="403.19" font-size="5.9" text-anchor="middle" fill="#333">5</text>
<text x="484.10" y="403.19" font-size="5.9" text-anchor="middle" fill="#333">4</text>
<text x="326.80" y="412.97" font-size="5.9" text-anchor="end" fill="#333">Never Treated</text>
<text x="339.40" y="412.97" font-size="5.9" text-anchor="middle" fill="#333">34</text>
<text x="387.63" y="412.97" font-size="5.9" text-anchor="middle" fill="#333">15</text>
<text x="435.87" y="412.97" font-size="5.9" text-anchor="middle" fill="#333">4</text>
<text x="484.10" y="412.97" font-size="5.9" text-anchor="middle" fill="#333">2</text>
<text x="326.80" y="422.75" font-size="5.9" text-anchor="end" fill="#333">R-monotherapy</text>
<text x="339.40" y="422.75" font-size="5.9" text-anchor="middle" fill="#333">21</text>
<text x="387.63" y="422.75" font-size="5.9" text-anchor="middle" fill="#333">15</text>
<text x="435.87" y="422.75" font-size="5.9" text-anchor="middle" fill="#333">12</text>
<text x="484.10" y="422.75" font-size="5.9" text-anchor="middle" fill="#333">7</text>
<text x="326.80" y="432.53" font-size="5.9" text-anchor="end" fill="#333">Radiation</text>
<text x="339.40" y="432.53" font-size="5.9" text-anchor="middle" fill="#333">49</text>
<text x="387.63" y="432.53" font-size="5.9" text-anchor="middle" fill="#333">29</text>
<text x="435.87" y="432.53" font-size="5.9" text-anchor="middle" fill="#333">14</text>
<text x="484.10" y="432.53" font-size="5.9" text-anchor="middle" fill="#333">11</text>
<text x="275.30" y="455.76" font-size="7.9" text-anchor="middle" fill="#222">Splenic MZL</text>
<line x1="78.50" y1="461.60" x2="78.50" y2="579.20" stroke="#1e1e1e" stroke-width="1.1"/>
<line x1="78.00" y1="578.60" x2="228.50" y2="578.60" stroke="#1e1e1e" stroke-width="1.2"/>
<line x1="75.70" y1="578.60" x2="78.50" y2="578.60" stroke="#1e1e1e" stroke-width="0.9"/>
<text x="72.50" y="580.42" font-size="6.2" text-anchor="end" fill="#333">0</text>
<line x1="75.70" y1="567.16" x2="78.50" y2="567.16" stroke="#1e1e1e" stroke-width="0.9"/>
<text x="72.50" y="568.98" font-size="6.2" text-anchor="end" fill="#333">10</text>
<line x1="75.70" y1="555.72" x2="78.50" y2="555.72" stroke="#1e1e1e" stroke-width="0.9"/>
<text x="72.50" y="557.54" font-size="6.2" text-anchor="end" fill="#333">20</text>
<line x1="75.70" y1="544.28" x2="78.50" y2="544.28" stroke="#1e1e1e" stroke-width="0.9"/>
<text x="72.50" y="546.10" font-size="6.2" text-anchor="end" fill="#333">30</text>
<line x1="75.70" y1="532.84" x2="78.50" y2="532.84" stroke="#1e1e1e" stroke-width="0.9"/>
<text x="72.50" y="534.66" font-size="6.2" text-anchor="end" fill="#333">40</text>
<line x1="75.70" y1="521.40" x2="78.50" y2="521.40" stroke="#1e1e1e" stroke-width="0.9"/>
<text x="72.50" y="523.22" font-size="6.2" text-anchor="end" fill="#333">50</text>
<line x1="75.70" y1="509.96" x2="78.50" y2="509.96" stroke="#1e1e1e" stroke-width="0.9"/>
<text x="72.50" y="511.78" font-size="6.2" text-anchor="end" fill="#333">60</text>
<line x1="75.70" y1="498.52" x2="78.50" y2="498.52" stroke="#1e1e1e" stroke-width="0.9"/>
<text x="72.50" y="500.34" font-size="6.2" text-anchor="end" fill="#333">70</text>
<line x1="75.70" y1="487.08" x2="78.50" y2="487.08" stroke="#1e1e1e" stroke-width="0.9"/>
<text x="72.50" y="488.90" font-size="6.2" text-anchor="end" fill="#333">80</text>
<line x1="75.70" y1="475.64" x2="78.50" y2="475.64" stroke="#1e1e1e" stroke-width="0.9"/>
<text x="72.50" y="477.46" font-size="6.2" text-anchor="end" fill="#333">90</text>
<line x1="75.70" y1="464.20" x2="78.50" y2="464.20" stroke="#1e1e1e" stroke-width="0.9"/>
<text x="72.50" y="466.02" font-size="6.2" text-anchor="end" fill="#333">100</text>
<line x1="78.50" y1="578.60" x2="78.50" y2="581.20" stroke="#1e1e1e" stroke-width="0.9"/>
<text x="78.50" y="590.06" font-size="6.3" text-anchor="middle" fill="#333">0</text>
<line x1="126.73" y1="578.60" x2="126.73" y2="581.20" stroke="#1e1e1e" stroke-width="0.9"/>
<text x="126.73" y="590.06" font-size="6.3" text-anchor="middle" fill="#333">4</text>
<line x1="174.97" y1="578.60" x2="174.97" y2="581.20" stroke="#1e1e1e" stroke-width="0.9"/>
<text x="174.97" y="590.06" font-size="6.3" text-anchor="middle" fill="#333">8</text>
<line x1="223.20" y1="578.60" x2="223.20" y2="581.20" stroke="#1e1e1e" stroke-width="0.9"/>
<text x="223.20" y="590.06" font-size="6.3" text-anchor="middle" fill="#333">12</text>
<text x="153.25" y="601.10" font-size="8.5" text-anchor="middle" fill="#2a2a2a" stroke="#2a2a2a" stroke-width="0.42" textLength="31.7" lengthAdjust="spacingAndGlyphs">Time (years)</text>
<text transform="translate(56.40,519.65) rotate(-90)" x="0" y="0" font-size="8.1" text-anchor="middle" fill="#2a2a2a" stroke="#2a2a2a" stroke-width="0.42" textLength="48.6" lengthAdjust="spacingAndGlyphs">Overall survival (%)</text>
<path d="M78.50,464.20 L223.20,464.20" fill="none" stroke="#5f536c" stroke-width="1.05" stroke-linejoin="miter"/>
<path d="M78.50,464.20 L138.07,464.20 L138.07,480.56 L223.20,480.56" fill="none" stroke="#4b6888" stroke-width="1.05" stroke-linejoin="miter"/>
<path d="M78.50,464.20 L91.28,464.20 L91.28,492.80 L223.20,492.80" fill="none" stroke="#b03c60" stroke-width="1.05" stroke-linejoin="miter"/>
<path d="M78.50,464.20 L124.68,464.20 L124.68,473.47 L131.19,473.47 L131.19,484.45 L158.21,484.45 L158.21,502.98 L175.69,502.98 L175.69,521.86 L223.20,521.86" fill="none" stroke="#5aa56c" stroke-width="1.05" stroke-linejoin="miter"/>
<line x1="223.20" y1="462.90" x2="223.20" y2="465.50" stroke="#5f536c" stroke-width="0.8"/>
<line x1="150.85" y1="479.26" x2="150.85" y2="481.86" stroke="#4b6888" stroke-width="0.8"/>
<line x1="161.70" y1="479.26" x2="161.70" y2="481.86" stroke="#4b6888" stroke-width="0.8"/>
<line x1="165.32" y1="479.26" x2="165.32" y2="481.86" stroke="#4b6888" stroke-width="0.8"/>
<line x1="189.44" y1="479.26" x2="189.44" y2="481.86" stroke="#4b6888" stroke-width="0.8"/>
<line x1="223.20" y1="479.26" x2="223.20" y2="481.86" stroke="#4b6888" stroke-width="0.8"/>
<line x1="92.97" y1="491.50" x2="92.97" y2="494.10" stroke="#b03c60" stroke-width="0.8"/>
<line x1="153.26" y1="491.50" x2="153.26" y2="494.10" stroke="#b03c60" stroke-width="0.8"/>
<line x1="81.51" y1="462.90" x2="81.51" y2="465.50" stroke="#5aa56c" stroke-width="0.8"/>
<line x1="83.44" y1="462.90" x2="83.44" y2="465.50" stroke="#5aa56c" stroke-width="0.8"/>
<line x1="85.13" y1="462.90" x2="85.13" y2="465.50" stroke="#5aa56c" stroke-width="0.8"/>
<line x1="87.18" y1="462.90" x2="87.18" y2="465.50" stroke="#5aa56c" stroke-width="0.8"/>
<line x1="92.97" y1="462.90" x2="92.97" y2="465.50" stroke="#5aa56c" stroke-width="0.8"/>
<line x1="99.24" y1="462.90" x2="99.24" y2="465.50" stroke="#5aa56c" stroke-width="0.8"/>
<line x1="111.30" y1="462.90" x2="111.30" y2="465.50" stroke="#5aa56c" stroke-width="0.8"/>
<line x1="144.82" y1="483.15" x2="144.82" y2="485.75" stroke="#5aa56c" stroke-width="0.8"/>
<line x1="190.64" y1="520.56" x2="190.64" y2="523.16" stroke="#5aa56c" stroke-width="0.8"/>
<line x1="208.73" y1="520.56" x2="208.73" y2="523.16" stroke="#5aa56c" stroke-width="0.8"/>
<line x1="217.17" y1="520.56" x2="217.17" y2="523.16" stroke="#5aa56c" stroke-width="0.8"/>
<text x="152.60" y="527.45" font-size="4.9" text-anchor="middle" fill="#2b2b2b">Events/</text>
<text x="152.60" y="533.55" font-size="4.9" text-anchor="middle" fill="#2b2b2b">Total</text>
<text x="181.50" y="530.40" font-size="4.75" text-anchor="middle" fill="#2b2b2b">Time-Point</text>
<text x="227.20" y="530.49" font-size="5.0" text-anchor="middle" fill="#2b2b2b">KM Est (95% CI)</text>
<line x1="87.30" y1="543.60" x2="98.70" y2="543.60" stroke="#4b6888" stroke-width="1.1"/>
<text x="102.10" y="542.14" font-size="4.85" fill="#2b2b2b">Chemo-</text>
<text x="102.10" y="548.74" font-size="4.85" fill="#2b2b2b">immunotherapy</text>
<text x="152.60" y="545.35" font-size="4.9" text-anchor="middle" fill="#2b2b2b">1/9</text>
<text x="181.50" y="545.35" font-size="4.9" text-anchor="middle" fill="#2b2b2b">5 Years</text>
<text x="227.20" y="545.44" font-size="5.15" text-anchor="middle" fill="#2b2b2b">85.7 (63.3-100.0%)</text>
<line x1="87.30" y1="552.20" x2="98.70" y2="552.20" stroke="#5f536c" stroke-width="1.1"/>
<text x="102.10" y="553.94" font-size="4.85" fill="#2b2b2b">Excision</text>
<text x="152.60" y="553.95" font-size="4.9" text-anchor="middle" fill="#2b2b2b">0/4</text>
<text x="181.50" y="553.95" font-size="4.9" text-anchor="middle" fill="#2b2b2b">5 Years</text>
<text x="227.20" y="554.04" font-size="5.15" text-anchor="middle" fill="#2b2b2b">100.0 (100.0-100.0%)</text>
<line x1="87.30" y1="557.90" x2="98.70" y2="557.90" stroke="#b03c60" stroke-width="1.1"/>
<text x="102.10" y="559.64" font-size="4.85" fill="#2b2b2b">Never Treated</text>
<text x="152.60" y="559.65" font-size="4.9" text-anchor="middle" fill="#2b2b2b">1/6</text>
<text x="181.50" y="559.65" font-size="4.9" text-anchor="middle" fill="#2b2b2b">5 Years</text>
<text x="227.20" y="559.74" font-size="5.15" text-anchor="middle" fill="#2b2b2b">75.0 (42.6-100.0%)</text>
<line x1="87.30" y1="563.60" x2="98.70" y2="563.60" stroke="#5aa56c" stroke-width="1.1"/>
<text x="102.10" y="565.34" font-size="4.85" fill="#2b2b2b">R-monotherapy</text>
<text x="152.60" y="565.35" font-size="4.9" text-anchor="middle" fill="#2b2b2b">5/16</text>
<text x="181.50" y="565.35" font-size="4.9" text-anchor="middle" fill="#2b2b2b">5 Years</text>
<text x="227.20" y="565.44" font-size="5.15" text-anchor="middle" fill="#2b2b2b">82.5 (63.1-100.0%)</text>
<text x="91.10" y="574.95" font-size="6" fill="#333"><tspan font-style="italic" fill="#34425a">P</tspan> = .192</text>
<line x1="187.80" y1="573.50" x2="192.80" y2="573.50" stroke="#222" stroke-width="1.0"/>
<line x1="190.30" y1="570.90" x2="190.30" y2="576.10" stroke="#222" stroke-width="1.0"/>
<text x="195.60" y="575.35" font-size="6.0" fill="#333">Censor</text>
<text x="65.90" y="611.51" font-size="5.9" text-anchor="end" fill="#333">Number at risk</text>
<text x="65.90" y="621.61" font-size="5.9" text-anchor="end" fill="#333">Chemoimmunotherapy</text>
<text x="78.50" y="621.61" font-size="5.9" text-anchor="middle" fill="#333">9</text>
<text x="126.73" y="621.61" font-size="5.9" text-anchor="middle" fill="#333">7</text>
<text x="174.97" y="621.61" font-size="5.9" text-anchor="middle" fill="#333">3</text>
<text x="223.20" y="621.61" font-size="5.9" text-anchor="middle" fill="#333">1</text>
<text x="65.90" y="631.39" font-size="5.9" text-anchor="end" fill="#333">Excision</text>
<text x="78.50" y="631.39" font-size="5.9" text-anchor="middle" fill="#333">4</text>
<text x="126.73" y="631.39" font-size="5.9" text-anchor="middle" fill="#333">3</text>
<text x="174.97" y="631.39" font-size="5.9" text-anchor="middle" fill="#333">3</text>
<text x="223.20" y="631.39" font-size="5.9" text-anchor="middle" fill="#333">3</text>
<text x="65.90" y="641.17" font-size="5.9" text-anchor="end" fill="#333">Never Treated</text>
<text x="78.50" y="641.17" font-size="5.9" text-anchor="middle" fill="#333">6</text>
<text x="126.73" y="641.17" font-size="5.9" text-anchor="middle" fill="#333">1</text>
<text x="174.97" y="641.17" font-size="5.9" text-anchor="middle" fill="#333">1</text>
<text x="223.20" y="641.17" font-size="5.9" text-anchor="middle" fill="#333">1</text>
<text x="65.90" y="650.95" font-size="5.9" text-anchor="end" fill="#333">R-monotherapy</text>
<text x="78.50" y="650.95" font-size="5.9" text-anchor="middle" fill="#333">16</text>
<text x="126.73" y="650.95" font-size="5.9" text-anchor="middle" fill="#333">11</text>
<text x="174.97" y="650.95" font-size="5.9" text-anchor="middle" fill="#333">4</text>
<text x="223.20" y="650.95" font-size="5.9" text-anchor="middle" fill="#333">1</text>
<line x1="339.40" y1="461.60" x2="339.40" y2="579.20" stroke="#1e1e1e" stroke-width="1.1"/>
<line x1="338.90" y1="578.60" x2="489.40" y2="578.60" stroke="#1e1e1e" stroke-width="1.2"/>
<line x1="336.60" y1="578.60" x2="339.40" y2="578.60" stroke="#1e1e1e" stroke-width="0.9"/>
<text x="333.40" y="580.42" font-size="6.2" text-anchor="end" fill="#333">0</text>
<line x1="336.60" y1="567.16" x2="339.40" y2="567.16" stroke="#1e1e1e" stroke-width="0.9"/>
<text x="333.40" y="568.98" font-size="6.2" text-anchor="end" fill="#333">10</text>
<line x1="336.60" y1="555.72" x2="339.40" y2="555.72" stroke="#1e1e1e" stroke-width="0.9"/>
<text x="333.40" y="557.54" font-size="6.2" text-anchor="end" fill="#333">20</text>
<line x1="336.60" y1="544.28" x2="339.40" y2="544.28" stroke="#1e1e1e" stroke-width="0.9"/>
<text x="333.40" y="546.10" font-size="6.2" text-anchor="end" fill="#333">30</text>
<line x1="336.60" y1="532.84" x2="339.40" y2="532.84" stroke="#1e1e1e" stroke-width="0.9"/>
<text x="333.40" y="534.66" font-size="6.2" text-anchor="end" fill="#333">40</text>
<line x1="336.60" y1="521.40" x2="339.40" y2="521.40" stroke="#1e1e1e" stroke-width="0.9"/>
<text x="333.40" y="523.22" font-size="6.2" text-anchor="end" fill="#333">50</text>
<line x1="336.60" y1="509.96" x2="339.40" y2="509.96" stroke="#1e1e1e" stroke-width="0.9"/>
<text x="333.40" y="511.78" font-size="6.2" text-anchor="end" fill="#333">60</text>
<line x1="336.60" y1="498.52" x2="339.40" y2="498.52" stroke="#1e1e1e" stroke-width="0.9"/>
<text x="333.40" y="500.34" font-size="6.2" text-anchor="end" fill="#333">70</text>
<line x1="336.60" y1="487.08" x2="339.40" y2="487.08" stroke="#1e1e1e" stroke-width="0.9"/>
<text x="333.40" y="488.90" font-size="6.2" text-anchor="end" fill="#333">80</text>
<line x1="336.60" y1="475.64" x2="339.40" y2="475.64" stroke="#1e1e1e" stroke-width="0.9"/>
<text x="333.40" y="477.46" font-size="6.2" text-anchor="end" fill="#333">90</text>
<line x1="336.60" y1="464.20" x2="339.40" y2="464.20" stroke="#1e1e1e" stroke-width="0.9"/>
<text x="333.40" y="466.02" font-size="6.2" text-anchor="end" fill="#333">100</text>
<line x1="339.40" y1="578.60" x2="339.40" y2="581.20" stroke="#1e1e1e" stroke-width="0.9"/>
<text x="339.40" y="590.06" font-size="6.3" text-anchor="middle" fill="#333">0</text>
<line x1="387.63" y1="578.60" x2="387.63" y2="581.20" stroke="#1e1e1e" stroke-width="0.9"/>
<text x="387.63" y="590.06" font-size="6.3" text-anchor="middle" fill="#333">4</text>
<line x1="435.87" y1="578.60" x2="435.87" y2="581.20" stroke="#1e1e1e" stroke-width="0.9"/>
<text x="435.87" y="590.06" font-size="6.3" text-anchor="middle" fill="#333">8</text>
<line x1="484.10" y1="578.60" x2="484.10" y2="581.20" stroke="#1e1e1e" stroke-width="0.9"/>
<text x="484.10" y="590.06" font-size="6.3" text-anchor="middle" fill="#333">12</text>
<text x="414.15" y="601.10" font-size="8.5" text-anchor="middle" fill="#2a2a2a" stroke="#2a2a2a" stroke-width="0.42" textLength="31.7" lengthAdjust="spacingAndGlyphs">Time (years)</text>
<text transform="translate(317.30,519.85) rotate(-90)" x="0" y="0" font-size="8.1" text-anchor="middle" fill="#2a2a2a" stroke="#2a2a2a" stroke-width="0.42" textLength="72.5" lengthAdjust="spacingAndGlyphs">Disease-specific survival (%)</text>
<path d="M339.40,464.20 L484.10,464.20" fill="none" stroke="#5f536c" stroke-width="1.05" stroke-linejoin="miter"/>
<path d="M339.40,464.20 L484.10,464.20" fill="none" stroke="#b03c60" stroke-width="1.05" stroke-linejoin="miter"/>
<path d="M339.40,464.20 L399.09,464.20 L399.09,480.56 L484.10,480.56" fill="none" stroke="#4b6888" stroke-width="1.05" stroke-linejoin="miter"/>
<path d="M339.40,464.20 L385.70,464.20 L385.70,473.47 L391.85,473.47 L391.85,484.45 L419.11,484.45 L419.11,502.98 L484.10,502.98" fill="none" stroke="#5aa56c" stroke-width="1.05" stroke-linejoin="miter"/>
<line x1="484.10" y1="462.90" x2="484.10" y2="465.50" stroke="#b03c60" stroke-width="0.8"/>
<line x1="405.72" y1="479.26" x2="405.72" y2="481.86" stroke="#4b6888" stroke-width="0.8"/>
<line x1="421.40" y1="479.26" x2="421.40" y2="481.86" stroke="#4b6888" stroke-width="0.8"/>
<line x1="423.81" y1="479.26" x2="423.81" y2="481.86" stroke="#4b6888" stroke-width="0.8"/>
<line x1="450.34" y1="479.26" x2="450.34" y2="481.86" stroke="#4b6888" stroke-width="0.8"/>
<line x1="484.10" y1="479.26" x2="484.10" y2="481.86" stroke="#4b6888" stroke-width="0.8"/>
<line x1="343.02" y1="462.90" x2="343.02" y2="465.50" stroke="#5aa56c" stroke-width="0.8"/>
<line x1="346.63" y1="462.90" x2="346.63" y2="465.50" stroke="#5aa56c" stroke-width="0.8"/>
<line x1="350.25" y1="462.90" x2="350.25" y2="465.50" stroke="#5aa56c" stroke-width="0.8"/>
<line x1="355.08" y1="462.90" x2="355.08" y2="465.50" stroke="#5aa56c" stroke-width="0.8"/>
<line x1="358.69" y1="462.90" x2="358.69" y2="465.50" stroke="#5aa56c" stroke-width="0.8"/>
<line x1="369.55" y1="462.90" x2="369.55" y2="465.50" stroke="#5aa56c" stroke-width="0.8"/>
<line x1="377.99" y1="462.90" x2="377.99" y2="465.50" stroke="#5aa56c" stroke-width="0.8"/>
<line x1="405.72" y1="483.15" x2="405.72" y2="485.75" stroke="#5aa56c" stroke-width="0.8"/>
<line x1="440.69" y1="501.68" x2="440.69" y2="504.28" stroke="#5aa56c" stroke-width="0.8"/>
<line x1="459.98" y1="501.68" x2="459.98" y2="504.28" stroke="#5aa56c" stroke-width="0.8"/>
<line x1="478.07" y1="501.68" x2="478.07" y2="504.28" stroke="#5aa56c" stroke-width="0.8"/>
<text x="413.50" y="527.45" font-size="4.9" text-anchor="middle" fill="#2b2b2b">Events/</text>
<text x="413.50" y="533.55" font-size="4.9" text-anchor="middle" fill="#2b2b2b">Total</text>
<text x="442.40" y="530.40" font-size="4.75" text-anchor="middle" fill="#2b2b2b">Time-Point</text>
<text x="488.10" y="530.49" font-size="5.0" text-anchor="middle" fill="#2b2b2b">KM Est (95% CI)</text>
<line x1="348.20" y1="543.60" x2="359.60" y2="543.60" stroke="#4b6888" stroke-width="1.1"/>
<text x="363.00" y="542.14" font-size="4.85" fill="#2b2b2b">Chemo-</text>
<text x="363.00" y="548.74" font-size="4.85" fill="#2b2b2b">immunotherapy</text>
<text x="413.50" y="545.35" font-size="4.9" text-anchor="middle" fill="#2b2b2b">1/9</text>
<text x="442.40" y="545.35" font-size="4.9" text-anchor="middle" fill="#2b2b2b">5 Years</text>
<text x="488.10" y="545.44" font-size="5.15" text-anchor="middle" fill="#2b2b2b">85.7 (63.3-100.0%)</text>
<line x1="348.20" y1="552.20" x2="359.60" y2="552.20" stroke="#5f536c" stroke-width="1.1"/>
<text x="363.00" y="553.94" font-size="4.85" fill="#2b2b2b">Excision</text>
<text x="413.50" y="553.95" font-size="4.9" text-anchor="middle" fill="#2b2b2b">0/4</text>
<text x="442.40" y="553.95" font-size="4.9" text-anchor="middle" fill="#2b2b2b">5 Years</text>
<text x="488.10" y="554.04" font-size="5.15" text-anchor="middle" fill="#2b2b2b">100.0 (100.0-100.0%)</text>
<line x1="348.20" y1="557.90" x2="359.60" y2="557.90" stroke="#b03c60" stroke-width="1.1"/>
<text x="363.00" y="559.64" font-size="4.85" fill="#2b2b2b">Never Treated</text>
<text x="413.50" y="559.65" font-size="4.9" text-anchor="middle" fill="#2b2b2b">0/6</text>
<text x="442.40" y="559.65" font-size="4.9" text-anchor="middle" fill="#2b2b2b">5 Years</text>
<text x="488.10" y="559.74" font-size="5.15" text-anchor="middle" fill="#2b2b2b">100.0 (100.0-100.0%)</text>
<line x1="348.20" y1="563.60" x2="359.60" y2="563.60" stroke="#5aa56c" stroke-width="1.1"/>
<text x="363.00" y="565.34" font-size="4.85" fill="#2b2b2b">R-monotherapy</text>
<text x="413.50" y="565.35" font-size="4.9" text-anchor="middle" fill="#2b2b2b">3/16</text>
<text x="442.40" y="565.35" font-size="4.9" text-anchor="middle" fill="#2b2b2b">5 Years</text>
<text x="488.10" y="565.44" font-size="5.15" text-anchor="middle" fill="#2b2b2b">82.5 (63.1-100.0%)</text>
<text x="352.00" y="574.95" font-size="6" fill="#333"><tspan font-style="italic" fill="#34425a">P</tspan> = .576</text>
<line x1="448.70" y1="573.50" x2="453.70" y2="573.50" stroke="#222" stroke-width="1.0"/>
<line x1="451.20" y1="570.90" x2="451.20" y2="576.10" stroke="#222" stroke-width="1.0"/>
<text x="456.50" y="575.35" font-size="6.0" fill="#333">Censor</text>
<text x="326.80" y="611.51" font-size="5.9" text-anchor="end" fill="#333">Number at risk</text>
<text x="326.80" y="621.61" font-size="5.9" text-anchor="end" fill="#333">Chemoimmunotherapy</text>
<text x="339.40" y="621.61" font-size="5.9" text-anchor="middle" fill="#333">9</text>
<text x="387.63" y="621.61" font-size="5.9" text-anchor="middle" fill="#333">7</text>
<text x="435.87" y="621.61" font-size="5.9" text-anchor="middle" fill="#333">3</text>
<text x="484.10" y="621.61" font-size="5.9" text-anchor="middle" fill="#333">1</text>
<text x="326.80" y="631.39" font-size="5.9" text-anchor="end" fill="#333">Excision</text>
<text x="339.40" y="631.39" font-size="5.9" text-anchor="middle" fill="#333">4</text>
<text x="387.63" y="631.39" font-size="5.9" text-anchor="middle" fill="#333">3</text>
<text x="435.87" y="631.39" font-size="5.9" text-anchor="middle" fill="#333">3</text>
<text x="484.10" y="631.39" font-size="5.9" text-anchor="middle" fill="#333">3</text>
<text x="326.80" y="641.17" font-size="5.9" text-anchor="end" fill="#333">Never Treated</text>
<text x="339.40" y="641.17" font-size="5.9" text-anchor="middle" fill="#333">6</text>
<text x="387.63" y="641.17" font-size="5.9" text-anchor="middle" fill="#333">1</text>
<text x="435.87" y="641.17" font-size="5.9" text-anchor="middle" fill="#333">1</text>
<text x="484.10" y="641.17" font-size="5.9" text-anchor="middle" fill="#333">1</text>
<text x="326.80" y="650.95" font-size="5.9" text-anchor="end" fill="#333">R-monotherapy</text>
<text x="339.40" y="650.95" font-size="5.9" text-anchor="middle" fill="#333">16</text>
<text x="387.63" y="650.95" font-size="5.9" text-anchor="middle" fill="#333">11</text>
<text x="435.87" y="650.95" font-size="5.9" text-anchor="middle" fill="#333">4</text>
<text x="484.10" y="650.95" font-size="5.9" text-anchor="middle" fill="#333">1</text>
<rect x="0" y="0" width="520" height="1" fill="#5e5e5e"/>
<rect x="0" y="658" width="520" height="1" fill="#3e3e3e"/>
<rect x="0" y="0" width="1" height="659" fill="#474747"/>
<rect x="1" y="1" width="0.3" height="657" fill="#999"/>
<rect x="519" y="0" width="1" height="659" fill="#555"/>
</svg>
</body></html>
